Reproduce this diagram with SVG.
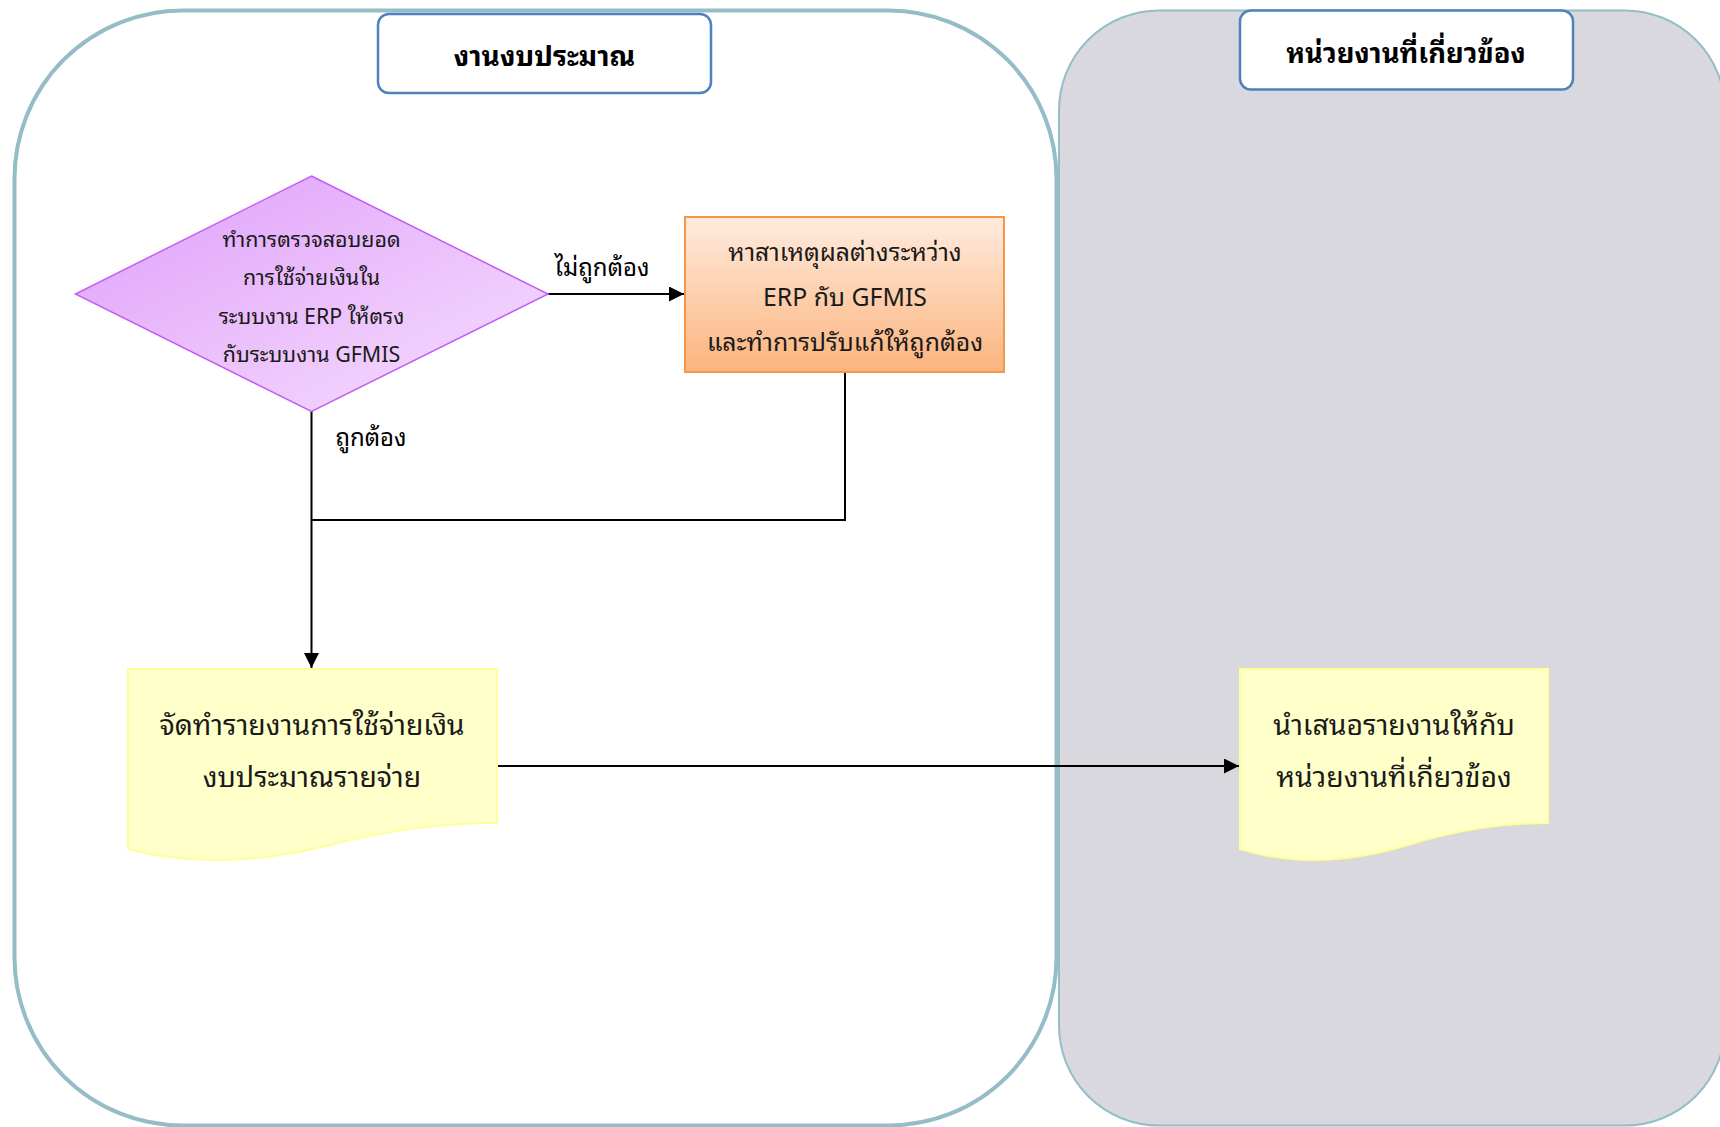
<svg xmlns="http://www.w3.org/2000/svg" width="1720" height="1127" viewBox="0 0 1720 1127">
  <defs>
    <linearGradient id="gDiamond" x1="0" y1="0" x2="1" y2="1">
      <stop offset="0" stop-color="#DF9EFA"/>
      <stop offset="1" stop-color="#F6DFFD"/>
    </linearGradient>
    <linearGradient id="gOrange" x1="0" y1="0" x2="0" y2="1">
      <stop offset="0" stop-color="#FFEBDE"/>
      <stop offset="1" stop-color="#FBB47E"/>
    </linearGradient>
    <marker id="arrow" viewBox="0 0 10 10" refX="10" refY="5" markerWidth="7.5" markerHeight="7.5" markerUnits="strokeWidth" orient="auto">
      <path d="M0,0 L10,5 L0,10 Z" fill="#000"/>
    </marker>
  </defs>
  <style>
    .th { font-family: "Noto Sans Thai Looped", "Noto Sans Thai", "Leelawadee UI", "Noto Sans", "DejaVu Sans", sans-serif; fill: #1a1a1a; text-anchor: middle; }
    .hdr { font-weight: bold; font-size: 28px; fill: #000; }
    .hdr2 { font-size: 27.4px; }
    .lbl { font-size: 24px; fill: #000; }
    .dia { font-size: 21.4px; }
    .box { font-size: 24.8px; }
    .doc { font-size: 28.4px; }
    .lane { stroke: #95BDC6; }
    .head { fill: #fff; stroke: #4F81BD; stroke-width: 2.5; }
    .docshape { fill: #FFFFC9; stroke: #FFFF99; stroke-width: 2; }
    .conn { fill: none; stroke: #000; stroke-width: 2; }
  </style>

  <!-- swimlanes -->
  <g id="lane-budget">
    <rect class="lane" x="14.5" y="10.5" width="1042" height="1115" rx="168" ry="168" fill="#fff" stroke-width="4"/>
    <rect class="head" x="378" y="14" width="333" height="79" rx="11"/>
    <text class="th hdr" x="544.5" y="66">งานงบประมาณ</text>
  </g>
  <g id="lane-related">
    <rect class="lane" x="1059" y="10.5" width="666" height="1115" rx="100" ry="100" fill="#D9D8DF" stroke-width="2"/>
    <rect class="head" x="1240" y="10.5" width="333" height="79" rx="11"/>
    <text class="th hdr hdr2" x="1406" y="63">หน่วยงานที่เกี่ยวข้อง</text>
  </g>

  <!-- connectors -->
  <g id="connectors">
    <path class="conn" d="M548,294 H684" marker-end="url(#arrow)"/>
    <path class="conn" d="M845,372 V520 H311.5"/>
    <path class="conn" d="M311.5,411 V668" marker-end="url(#arrow)"/>
    <path class="conn" d="M497,766 H1239" marker-end="url(#arrow)"/>
    <text class="th lbl" x="602" y="276">ไม่ถูกต้อง</text>
    <text class="th lbl" x="371" y="446">ถูกต้อง</text>
  </g>

  <!-- decision -->
  <g id="check-erp-gfmis">
    <polygon points="311.5,176 548,294 311.5,411.5 75.5,294" fill="url(#gDiamond)" stroke="#C35EF5" stroke-width="1.5"/>
    <text class="th dia" x="311.5" y="247">ทำการตรวจสอบยอด</text>
    <text class="th dia" x="311.5" y="285">การใช้จ่ายเงินใน</text>
    <text class="th dia" x="311.5" y="324">ระบบงาน ERP ให้ตรง</text>
    <text class="th dia" x="311.5" y="362">กับระบบงาน GFMIS</text>
  </g>

  <!-- fix differences -->
  <g id="find-difference">
    <rect x="685" y="217" width="319" height="155" fill="url(#gOrange)" stroke="#F79646" stroke-width="2"/>
    <text class="th box" x="845" y="261">หาสาเหตุผลต่างระหว่าง</text>
    <text class="th box" x="845" y="306">ERP กับ GFMIS</text>
    <text class="th box" x="845" y="351">และทำการปรับแก้ให้ถูกต้อง</text>
  </g>

  <!-- report document -->
  <g id="prepare-report">
    <path class="docshape" d="M128,669 H497 V823 C440,823 390,830 330,845 C270,860 200,868 128,849 Z"/>
    <text class="th doc" x="312" y="735">จัดทำรายงานการใช้จ่ายเงิน</text>
    <text class="th doc" x="312" y="787">งบประมาณรายจ่าย</text>
  </g>

  <!-- present report document -->
  <g id="present-report">
    <path class="docshape" d="M1240,669 H1548 V823 C1500,823 1458,830 1408,845 C1358,860 1300,868 1240,849 Z"/>
    <text class="th doc" x="1394" y="735">นำเสนอรายงานให้กับ</text>
    <text class="th doc" x="1394" y="787">หน่วยงานที่เกี่ยวข้อง</text>
  </g>
</svg>
